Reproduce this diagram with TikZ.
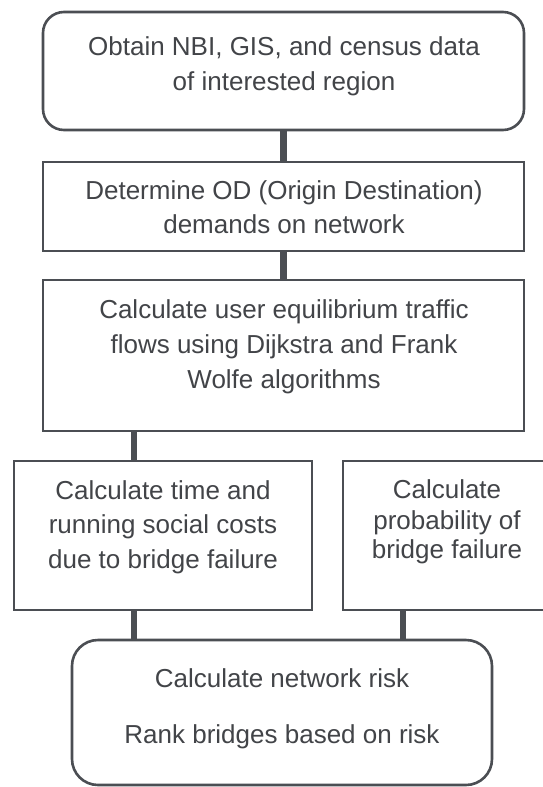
\documentclass[tikz,border=0pt]{standalone}
\usepackage{fontspec}
\setmainfont{Liberation Sans}
\definecolor{edge}{RGB}{75,78,83}
\definecolor{ink}{RGB}{66,68,72}
\begin{document}
\begin{tikzpicture}[x=1pt,y=-1pt,
  box/.style={draw=edge,line width=2.6pt,fill=white,inner sep=0pt,minimum width=#1},
  conn/.style={draw=edge,line width=6.5pt,line cap=butt},
  txt/.style={text=ink,inner sep=0pt,anchor=base,font=\fontsize{26}{31}\selectfont}]
\clip (0,0) rectangle (543,787);
\fill[white] (0,0) rectangle (543,787);
% connectors
\coordinate (kA) at (283.5,0);
\coordinate (kB) at (134,0);
\coordinate (kC) at (403,0);
% boxes
\node[box=481pt,minimum height=118pt,rounded corners=21pt] (b1) at (283.5,71) {};
\node[box=481pt,minimum height=89pt] (b2) at (283.5,206.5) {};
\node[box=481pt,minimum height=151pt] (b3) at (283.5,355.5) {};
\node[box=298pt,minimum height=149pt] (b4) at (163,535.5) {};
\node[box=208pt,minimum height=149pt] (b5) at (447,535.5) {};
\node[box=420pt,minimum height=145pt,rounded corners=26pt] (b6) at (282,712.5) {};
\draw[conn] (b1.south -| kA) -- (b2.north -| kA);
\draw[conn] (b2.south -| kA) -- (b3.north -| kA);
\draw[conn] (b3.south -| kB) -- (b4.north -| kB);
\draw[conn] (b4.south -| kB) -- (b6.north -| kB);
\draw[conn] (b5.south -| kC) -- (b6.north -| kC);
% texts
\node[txt] (t1a) at (284,55) {Obtain NBI, GIS, and census data};
\node[txt] (t1b) at (284,90) {of interested region};
\node[txt] (t2a) at (284,199) {Determine OD (Origin Destination)};
\node[txt] (t2b) at (284,233) {demands on network};
\node[txt] (t3a) at (284,318) {Calculate user equilibrium traffic};
\node[txt] (t3b) at (284,353) {flows using Dijkstra and Frank};
\node[txt] (t3c) at (284,388) {Wolfe algorithms};
\node[txt] (t4a) at (163,499) {Calculate time and};
\node[txt] (t4b) at (163,533) {running social costs};
\node[txt] (t4c) at (163,568) {due to bridge failure};
\node[txt] (t5a) at (447,498) {Calculate};
\node[txt] (t5b) at (447,529) {probability of};
\node[txt] (t5c) at (447,558) {bridge failure};
\node[txt] (t6a) at (282,687) {Calculate network risk};
\node[txt] (t6b) at (282,743) {Rank bridges based on risk};
\end{tikzpicture}
\end{document}
